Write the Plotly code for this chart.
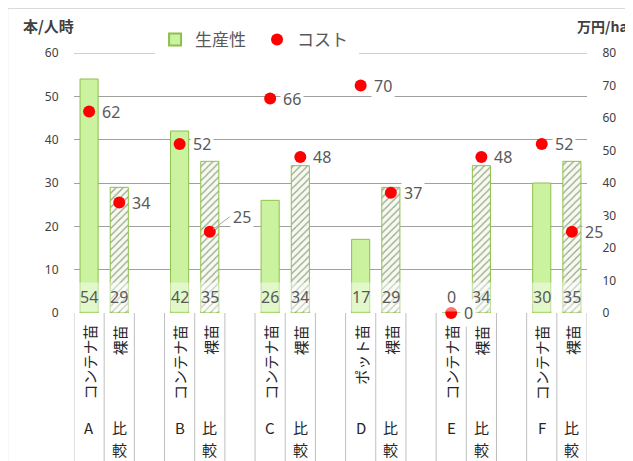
import plotly.graph_objects as go

# ---- data ----
groups = ["A", "B", "C", "D", "E", "F"]
inner_labels = ["コンテナ苗", "裸苗", "コンテナ苗", "裸苗", "コンテナ苗", "裸苗",
                "ポット苗", "裸苗", "コンテナ苗", "裸苗", "コンテナ苗", "裸苗"]
outer_labels = ["A", "比較", "B", "比較", "C", "比較",
                "D", "比較", "E", "比較", "F", "比較"]
productivity = [54, 29, 42, 35, 26, 34, 17, 29, 0, 34, 30, 35]
cost = [62, 34, 52, 25, 66, 48, 70, 37, 0, 48, 52, 25]
left_ticks = [0, 10, 20, 30, 40, 50, 60]
right_ticks = [0, 10, 20, 30, 40, 50, 60, 70, 80]

# slot positions: 3 slots per group (container, bare, gap), last group without gap
xpos = [3 * (i // 2) + (i % 2) for i in range(len(productivity))]
n_slots = 3 * len(groups) - 1

GRAY = "#595959"
DARK = "#404040"
NUMFONT = "Noto Sans"
JPFONT = "Noto Sans CJK JP"

is_bare = [i % 2 == 1 for i in range(len(productivity))]
bar_colors = ["#f6fcec" if b else "#cbf39f" for b in is_bare]
patterns = ["/" if b else "" for b in is_bare]

fig = go.Figure()
fig.add_trace(go.Bar(
    x=xpos, y=productivity, name="生産性", width=0.6,
    marker=dict(color=bar_colors, line=dict(color="#8dc04a", width=1),
                pattern=dict(shape=patterns, fgcolor="#d6eebb", size=5, solidity=0.25)),
    yaxis="y", hoverinfo="skip",
))
fig.add_trace(go.Scatter(
    x=xpos, y=cost, name="コスト", mode="markers", yaxis="y2",
    marker=dict(color="#ff0000", size=12, line=dict(width=0)),
    cliponaxis=False, hoverinfo="skip",
))

annotations = []
# bar value labels at bottom of bars
for x, v in zip(xpos, productivity):
    annotations.append(dict(
        x=x, y=0, xref="x", yref="y", text=str(v), showarrow=False,
        yanchor="bottom", yshift=1, font=dict(family=NUMFONT, size=16, color=GRAY),
        bgcolor="rgba(255,255,255,0.45)", borderpad=3,
    ))
# cost labels
for i, (x, v) in enumerate(zip(xpos, cost)):
    if i == 3:
        annotations.append(dict(
            x=x, y=v, xref="x", yref="y2", text=str(v), showarrow=True,
            arrowhead=0, arrowwidth=1, arrowcolor="#a6a6a6", ax=20, ay=-15,
            xanchor="left", font=dict(family=NUMFONT, size=16, color=GRAY),
            bgcolor="white", borderpad=2, standoff=4,
        ))
    else:
        annotations.append(dict(
            x=x, y=v, xref="x", yref="y2", text=str(v), showarrow=False,
            xanchor="left", xshift=10, font=dict(family=NUMFONT, size=16, color=GRAY),
            bgcolor="white", borderpad=2,
        ))
# category labels (inner: rotated; outer: stacked vertically, one character per line)
for x, inner, outer in zip(xpos, inner_labels, outer_labels):
    annotations.append(dict(
        x=x, y=0, xref="x", yref="paper", text=inner, showarrow=False,
        textangle=-90, yanchor="top", xanchor="center", yshift=-10,
        font=dict(family=JPFONT, size=15, color="#262626"),
    ))
    for k, ch in enumerate(outer):
        annotations.append(dict(
            x=x, y=0, xref="x", yref="paper", text=ch,
            showarrow=False, yanchor="top", xanchor="center", yshift=-102 - 22 * k,
            font=dict(family=JPFONT, size=15, color="#262626"),
        ))
# axis titles
annotations.append(dict(x=0, y=1, xref="paper", yref="paper", text="<b>本/人時</b>",
                        showarrow=False, xanchor="right", yanchor="bottom", xshift=2, yshift=15,
                        font=dict(family=JPFONT, size=15, color=DARK)))
annotations.append(dict(x=1, y=1, xref="paper", yref="paper", text="<b>万円/ha</b>",
                        showarrow=False, xanchor="left", yanchor="bottom", xshift=-12, yshift=15,
                        font=dict(family=JPFONT, size=14, color=DARK)))

shapes = []
for k in range(n_slots + 1):
    shapes.append(dict(type="line", xref="x", yref="paper", x0=k - 0.5, x1=k - 0.5,
                       y0=0, y1=-0.7, line=dict(color="#bfbfbf", width=1), layer="below"))
# top gridline (axis max)
shapes.append(dict(type="line", xref="paper", yref="y", x0=0, x1=1,
                   y0=max(left_ticks), y1=max(left_ticks),
                   line=dict(color="#a0a0a0", width=1), layer="below"))
# outer frame (top & left)
shapes.append(dict(type="line", xref="paper", yref="paper", x0=-0.129, x1=1.2,
                   y0=1.171, y1=1.171, line=dict(color="#d9d9d9", width=1)))
shapes.append(dict(type="line", xref="paper", yref="paper", x0=-0.129, x1=-0.129,
                   y0=1.171, y1=-0.7, line=dict(color="#e6e6e6", width=1)))

fig.update_layout(
    width=625, height=453,
    margin=dict(l=66, r=46, t=45, b=148, autoexpand=False),
    paper_bgcolor="white", plot_bgcolor="white",
    showlegend=True,
    legend=dict(orientation="h", x=0.158, y=1.05, xanchor="left", yanchor="middle",
                bgcolor="white", font=dict(family=JPFONT, size=17, color=GRAY),
                entrywidth=57, entrywidthmode="pixels", itemsizing="constant"),
    xaxis=dict(range=[-0.5, n_slots - 0.5], showticklabels=False, showgrid=False,
               zeroline=False, showline=False, fixedrange=True),
    yaxis=dict(range=[0, 60], tickvals=left_ticks, showgrid=True, gridcolor="#a0a0a0",
               gridwidth=1, zeroline=False, showline=False,
               tickfont=dict(family=NUMFONT, size=12, color=DARK),
               ticks="outside", ticklen=12, tickcolor="rgba(0,0,0,0)"),
    yaxis2=dict(range=[0, 80], tickvals=right_ticks, overlaying="y", side="right",
                showgrid=False, zeroline=False, showline=False,
                tickfont=dict(family=NUMFONT, size=12, color=DARK),
                ticks="outside", ticklen=12, tickcolor="rgba(0,0,0,0)"),
    bargap=0.4,
    annotations=annotations,
    shapes=shapes,
)

fig.write_html("out.html")
